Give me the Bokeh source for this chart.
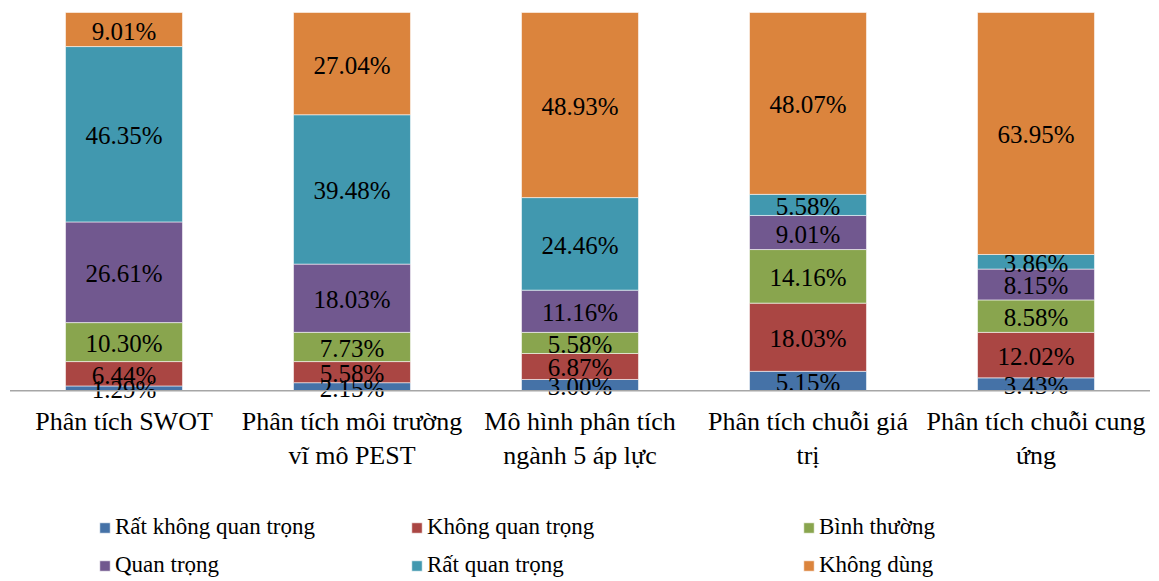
from bokeh.plotting import figure
from bokeh.models import FactorRange, Range1d, Legend, LegendItem, ColumnDataSource
from bokeh.core.properties import value
from bokeh.embed import file_html
from bokeh.resources import INLINE

# Phương pháp phân tích (trục hoành)
categories = [
    "Phân tích SWOT",
    "Phân tích môi trường\nvĩ mô PEST",
    "Mô hình phân tích\nngành 5 áp lực",
    "Phân tích chuỗi giá\ntrị",
    "Phân tích chuỗi cung\nứng",
]

# Mức độ đánh giá (% người trả lời), từ dưới lên trên
series_names = [
    "Rất không quan trọng",
    "Không quan trọng",
    "Bình thường",
    "Quan trọng",
    "Rất quan trọng",
    "Không dùng",
]
rat_khong_quan_trong = [1.29, 2.15, 3.00, 5.15, 3.43]
khong_quan_trong = [6.44, 5.58, 6.87, 18.03, 12.02]
binh_thuong = [10.30, 7.73, 5.58, 14.16, 8.58]
quan_trong = [26.61, 18.03, 11.16, 9.01, 8.15]
rat_quan_trong = [46.35, 39.48, 24.46, 5.58, 3.86]
khong_dung = [9.01, 27.04, 48.93, 48.07, 63.95]

colors = ["#4572A7", "#AA4643", "#89A54E", "#71588F", "#4198AF", "#DB843D"]

W, H = 1159, 581
PX = 3.79          # pixels per percentage point
BASE_PX = 191      # distance of the zero line above the bottom edge

FONT_NAME = "Liberation Serif"
FONT = value(FONT_NAME)

all_series = [rat_khong_quan_trong, khong_quan_trong, binh_thuong,
              quan_trong, rat_quan_trong, khong_dung]
keys = ["s%d" % i for i in range(len(all_series))]

data = {"cat": categories}
for k, vals in zip(keys, all_series):
    data[k] = vals
src = ColumnDataSource(data)

p = figure(
    width=W, height=H,
    x_range=FactorRange(*categories, range_padding=9.5 / 228,
                        range_padding_units="absolute"),
    y_range=Range1d(-BASE_PX / PX, 100 + 12 / PX),
    x_axis_location=None, y_axis_location=None,
    toolbar_location=None, output_backend="svg",
    min_border=0, outline_line_color=None,
)
p.grid.grid_line_color = None
p.background_fill_color = "white"

renderers = p.vbar_stack(keys, x="cat", width=0.513, color=colors,
                         line_color="white", line_alpha=0.55, line_width=1,
                         source=src)

# value labels centred in each segment
lx, ly, lt = [], [], []
bottoms = [0.0] * len(categories)
for vals in all_series:
    for i, v in enumerate(vals):
        lx.append(categories[i])
        ly.append(bottoms[i] + v / 2)
        lt.append(f"{v:.2f}%")
        bottoms[i] += v
p.text(x=lx, y=ly, text=lt, text_align="center", text_baseline="alphabetic",
       y_offset=1.5, text_font=FONT, text_font_size="25px", text_color="black")

# zero line
p.segment(x0=[0], y0=[0], x1=[len(categories)], y1=[0],
          line_color="#A6A6A6", line_width=1.5)

# category labels, one or two lines under each bar
first = [c.split("\n")[0] for c in categories]
second = [c.split("\n")[1] if "\n" in c else "" for c in categories]
p.text(x=categories, y=[0] * len(categories), text=first, text_align="center",
       text_baseline="alphabetic", y_offset=30.5, text_font=FONT,
       text_font_size="26px", text_color="black")
p.text(x=categories, y=[0] * len(categories), text=second, text_align="center",
       text_baseline="alphabetic", y_offset=65, text_font=FONT,
       text_font_size="26px", text_color="black")

# legend: two rows of three entries
col_x = [98, 410, 802]
row_y = [39, 1]
for i, (name, r) in enumerate(zip(series_names, renderers)):
    lg = Legend(
        items=[LegendItem(label=name, renderers=[r])],
        location=(col_x[i % 3], row_y[i // 3]),
        orientation="vertical",
        glyph_width=13, glyph_height=13, label_standoff=4,
        label_height=30, label_text_font=FONT_NAME, label_text_font_size="23px",
        label_text_color="black", padding=0, margin=0, spacing=0,
        border_line_color=None, background_fill_alpha=0,
    )
    p.add_layout(lg)

open("out.html", "w").write(file_html(p, INLINE))
